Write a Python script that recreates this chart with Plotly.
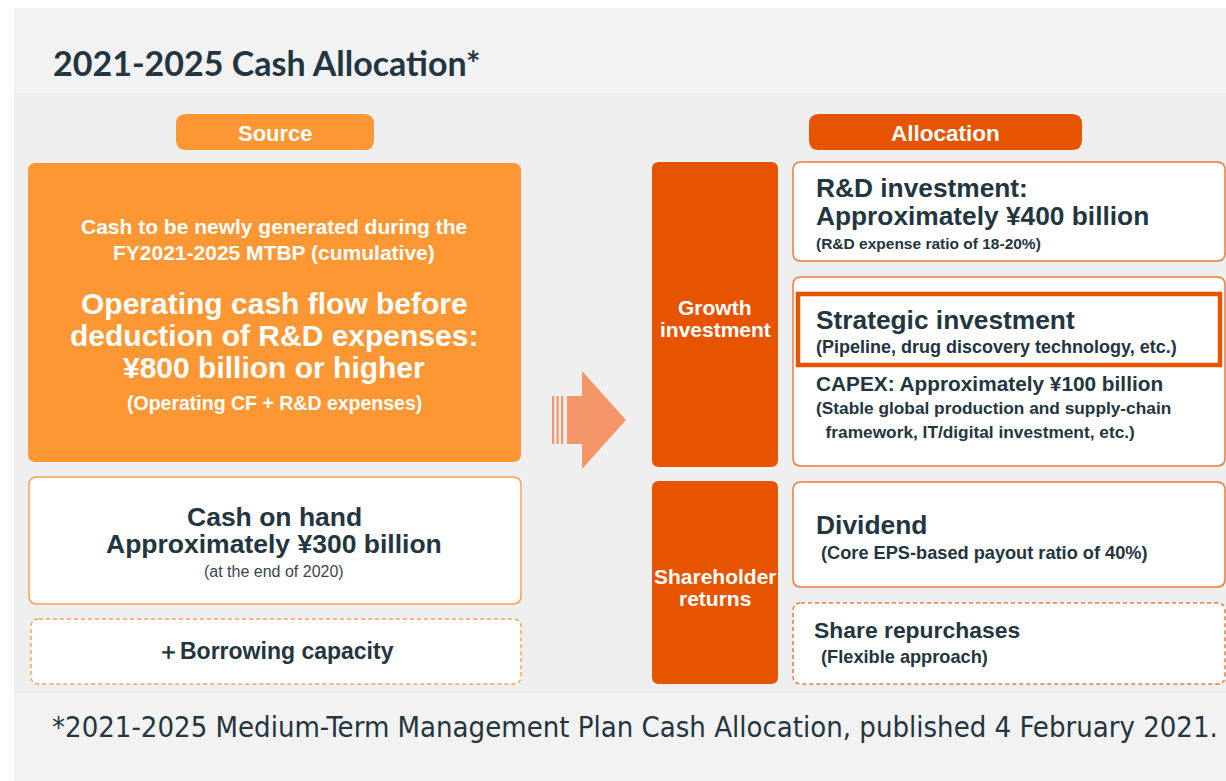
import plotly.graph_objects as go

# ---------------- content ----------------
title_text = "2021-2025 Cash Allocation*"
header_labels = ["Source", "Allocation"]
source_intro = ["Cash to be newly generated during the", "FY2021-2025 MTBP (cumulative)"]
source_main = ["Operating cash flow before", "deduction of R&D expenses:", "¥800 billion or higher"]
source_note = "(Operating CF + R&D expenses)"
cash_lines = ["Cash on hand", "Approximately ¥300 billion"]
cash_note = "(at the end of 2020)"
borrow_text = "＋Borrowing capacity"
growth_label = ["Growth", "investment"]
holder_label = ["Shareholder", "returns"]
rd_lines = ["R&D investment:", "Approximately ¥400 billion"]
rd_note = "(R&D expense ratio of 18-20%)"
strat_title = "Strategic investment"
strat_note = "(Pipeline, drug discovery technology, etc.)"
capex_title = "CAPEX: Approximately ¥100 billion"
capex_notes = ["(Stable global production and supply-chain", "  framework, IT/digital investment, etc.)"]
div_title = "Dividend"
div_note = " (Core EPS-based payout ratio of 40%)"
rep_title = "Share repurchases"
rep_note = " (Flexible approach)"
footnote = "*2021-2025 Medium-Term Management Plan Cash Allocation, published 4 February 2021."

# ---------------- styles ----------------
W, H = 1226, 781
LIGHT_OR = "#FD9733"
DARK_OR = "#E65400"
ARROW = "#F4966A"
BORDER_R = "#EF7A3B"
BORDER_L = "#FDA14F"
TXT = "#233540"
SANS = "Liberation Sans, Arial, sans-serif"

shapes = []
annots = []


def rrect(x0, y0, x1, y1, r, fill, line_color=None, lw=0, dash=None):
    p = (f"M{x0+r},{y0} L{x1-r},{y0} Q{x1},{y0} {x1},{y0+r} "
         f"L{x1},{y1-r} Q{x1},{y1} {x1-r},{y1} L{x0+r},{y1} "
         f"Q{x0},{y1} {x0},{y1-r} L{x0},{y0+r} Q{x0},{y0} {x0+r},{y0} Z")
    line = dict(width=lw, color=line_color if line_color else "rgba(0,0,0,0)")
    if dash:
        line["dash"] = dash
    shapes.append(dict(type="path", path=p, xref="x", yref="y",
                       fillcolor=fill, line=line, layer="below"))


def rect(x0, y0, x1, y1, fill, line_color=None, lw=0):
    shapes.append(dict(type="rect", x0=x0, y0=y0, x1=x1, y1=y1, xref="x", yref="y",
                       fillcolor=fill,
                       line=dict(width=lw, color=line_color if line_color else "rgba(0,0,0,0)"),
                       layer="below"))


def text(x, y, s, size, color=TXT, bold=True, anchor="center", family=SANS):
    annots.append(dict(x=x, y=y, xref="x", yref="y", text=(f"<b>{s}</b>" if bold else s),
                       showarrow=False, xanchor=anchor, yanchor="middle",
                       font=dict(size=size, color=color, family=family),
                       align=anchor if anchor != "center" else "center"))


# background panels
rect(14, 8, W, H, "#F2F2F2")
rect(14, 93, W, 693, "#EFEFEF")

# title
text(51, 62, title_text, 34, bold=True, anchor="left", family="Lato, Open Sans, sans-serif")

# header pills
rrect(176, 114, 374, 150, 10, LIGHT_OR)
text(275, 133, header_labels[0], 22, color="white")
rrect(809, 114, 1082, 150, 10, DARK_OR)
text(945, 133, header_labels[1], 22.5, color="white")

# --- Source side ---
rrect(28, 163, 521, 462, 8, LIGHT_OR)
for i, s in enumerate(source_intro):
    text(274, 226 + i * 26, s, 21, color="white")
for i, s in enumerate(source_main):
    text(274, 303 + i * 32, s, 30, color="white")
text(274, 403, source_note, 19.5, color="white")

rrect(29, 477, 521, 604, 8, "white", BORDER_L, 1.5)
for i, s in enumerate(cash_lines):
    text(274, 517 + i * 27, s, 26.5)
text(274, 571, cash_note, 16, bold=False, color="#3a4550")

rrect(31, 619, 521, 684, 8, "white", BORDER_L, 1.5, dash="4px,3px")
text(275, 651, borrow_text, 23)

# --- Arrow ---
for sx in (552, 556.5, 561):
    rect(sx, 396, sx + 2.2, 444, ARROW)
shapes.append(dict(type="path", xref="x", yref="y",
                   path="M567,396 L582,396 L582,371 L626,420 L582,469 L582,444 L567,444 Z",
                   fillcolor=ARROW, line=dict(width=0), layer="below"))

# --- Allocation side ---
rrect(652, 162, 778, 467, 7, DARK_OR)
for i, s in enumerate(growth_label):
    text(715, 307 + i * 22, s, 21, color="white")
rrect(652, 481, 778, 684, 7, DARK_OR)
for i, s in enumerate(holder_label):
    text(715, 576 + i * 22, s, 21, color="white")

# R&D box
rrect(793, 162, 1225, 261, 8, "white", BORDER_R, 1.5)
text(814, 188, rd_lines[0], 26.3, anchor="left")
text(814, 216, rd_lines[1], 26.3, anchor="left")
text(814, 243, rd_note, 15.5, anchor="left")

# Strategic / CAPEX box
rrect(793, 277, 1225, 466, 8, "white", BORDER_R, 1.5)
shapes.append(dict(type="rect", x0=798, y0=294, x1=1220, y1=365, xref="x", yref="y",
                   fillcolor="rgba(0,0,0,0)", line=dict(width=4.5, color=DARK_OR), layer="above"))
text(814, 320, strat_title, 26.3, anchor="left")
text(814, 347, strat_note, 18, anchor="left")
text(814, 383, capex_title, 20.8, anchor="left")
text(814, 408, capex_notes[0], 17.3, anchor="left")
text(814, 432, capex_notes[1], 17.3, anchor="left")

# Dividend box
rrect(793, 482, 1225, 587, 8, "white", BORDER_R, 1.5)
text(814, 525, div_title, 26.4, anchor="left")
text(814, 553, div_note, 18.2, anchor="left")

# Share repurchases box
rrect(793, 603, 1225, 684, 8, "white", BORDER_R, 1.5, dash="4px,3px")
text(812, 630, rep_title, 22.9, anchor="left")
text(814, 657, rep_note, 18.2, anchor="left")

# footnote
text(50, 727, footnote, 29, bold=False, anchor="left",
     family="DejaVu Sans Condensed, DejaVu Sans, sans-serif")

fig = go.Figure()
fig.update_layout(
    width=W, height=H, margin=dict(l=0, r=0, t=0, b=0),
    paper_bgcolor="white", plot_bgcolor="white",
    xaxis=dict(range=[0, W], visible=False, fixedrange=True),
    yaxis=dict(range=[H, 0], visible=False, fixedrange=True),
    shapes=shapes, annotations=annots, showlegend=False,
)
fig.write_html("out.html", config={"displayModeBar": False},
               post_script="document.body.style.margin='0';document.body.style.overflow='hidden';")
